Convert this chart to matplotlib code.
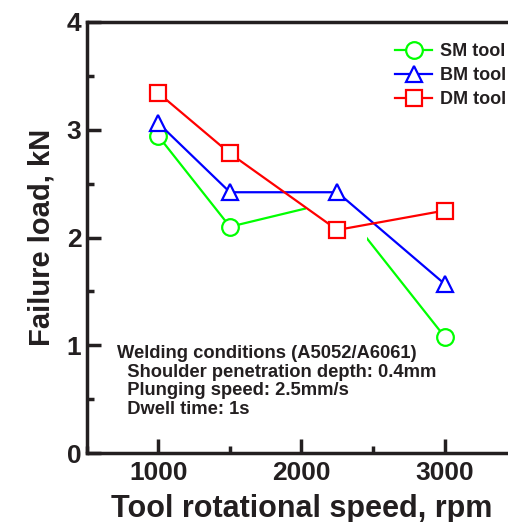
import matplotlib.pyplot as plt
from matplotlib.patches import Rectangle
from matplotlib.ticker import MultipleLocator

plt.rcParams['font.family'] = ['Liberation Sans', 'DejaVu Sans']
plt.rcParams['font.weight'] = 'bold'

speed = [1000, 1500, 2250, 3000]
sm_load = [2.94, 2.10, 2.34, 1.08]
bm_load = [3.06, 2.42, 2.42, 1.57]
dm_load = [3.34, 2.78, 2.07, 2.25]

conditions = ['Welding conditions (A5052/A6061)',
              '  Shoulder penetration depth: 0.4mm',
              '  Plunging speed: 2.5mm/s',
              '  Dwell time: 1s']

ink = '#231f20'

fig = plt.figure(figsize=(5.08, 5.22), dpi=100)
ax = fig.add_axes([0.171, 0.132, 0.845, 0.826])

ax.plot(speed, sm_load, color='#00ff00', lw=1.6, marker='o', ms=12,
        mfc='white', mew=1.6, markevery=[0, 1, 3], label='SM tool', zorder=2)
# the SM curve is interrupted in the crowded middle region
ax.add_patch(Rectangle((2030, 1.95), 425, 0.5, fc='white', ec='none', zorder=2.5))
ax.plot(speed, bm_load, color='#0000ff', lw=1.6, marker='^', ms=12,
        mfc='white', mew=1.6, label='BM tool', zorder=3)
ax.plot(speed, dm_load, color='#ff0000', lw=1.6, marker='s', ms=11.5,
        mfc='white', mew=1.6, label='DM tool', zorder=3)

ax.set_xlim(500, 3500)
ax.set_ylim(0, 4)
ax.xaxis.set_major_locator(MultipleLocator(1000))
ax.xaxis.set_minor_locator(MultipleLocator(500))
ax.yaxis.set_major_locator(MultipleLocator(1))
ax.yaxis.set_minor_locator(MultipleLocator(0.5))
ax.tick_params(which='both', direction='in', width=2.5, colors=ink,
               labelsize=19, pad=6)
ax.tick_params(which='major', length=10)
ax.tick_params(which='minor', length=5)
ax.tick_params(axis='y', pad=4)
for lab in ax.get_xticklabels() + ax.get_yticklabels():
    lab.set_fontweight('bold')
for side in ['left', 'bottom', 'top']:
    ax.spines[side].set_linewidth(2.5)
    ax.spines[side].set_color(ink)
ax.spines['right'].set_visible(False)

ax.set_xlabel('Tool rotational speed, rpm', fontsize=22, fontweight='bold',
              color=ink, labelpad=6)
ax.set_ylabel('Failure load, kN', fontsize=21, fontweight='bold',
              color=ink, labelpad=8)

leg = ax.legend(loc='upper left', bbox_to_anchor=(0.7, 0.967), frameon=False,
                prop={'size': 13, 'weight': 'bold'}, handlelength=2.1,
                handletextpad=0.4, labelspacing=0.38, borderaxespad=0)
for t in leg.get_texts():
    t.set_color(ink)

ax.text(0.071, 0.25, '\n'.join(conditions), transform=ax.transAxes,
        fontsize=13.2, fontweight='bold', color=ink, va='top', linespacing=1.12)

fig.savefig('out.png', dpi=100)
